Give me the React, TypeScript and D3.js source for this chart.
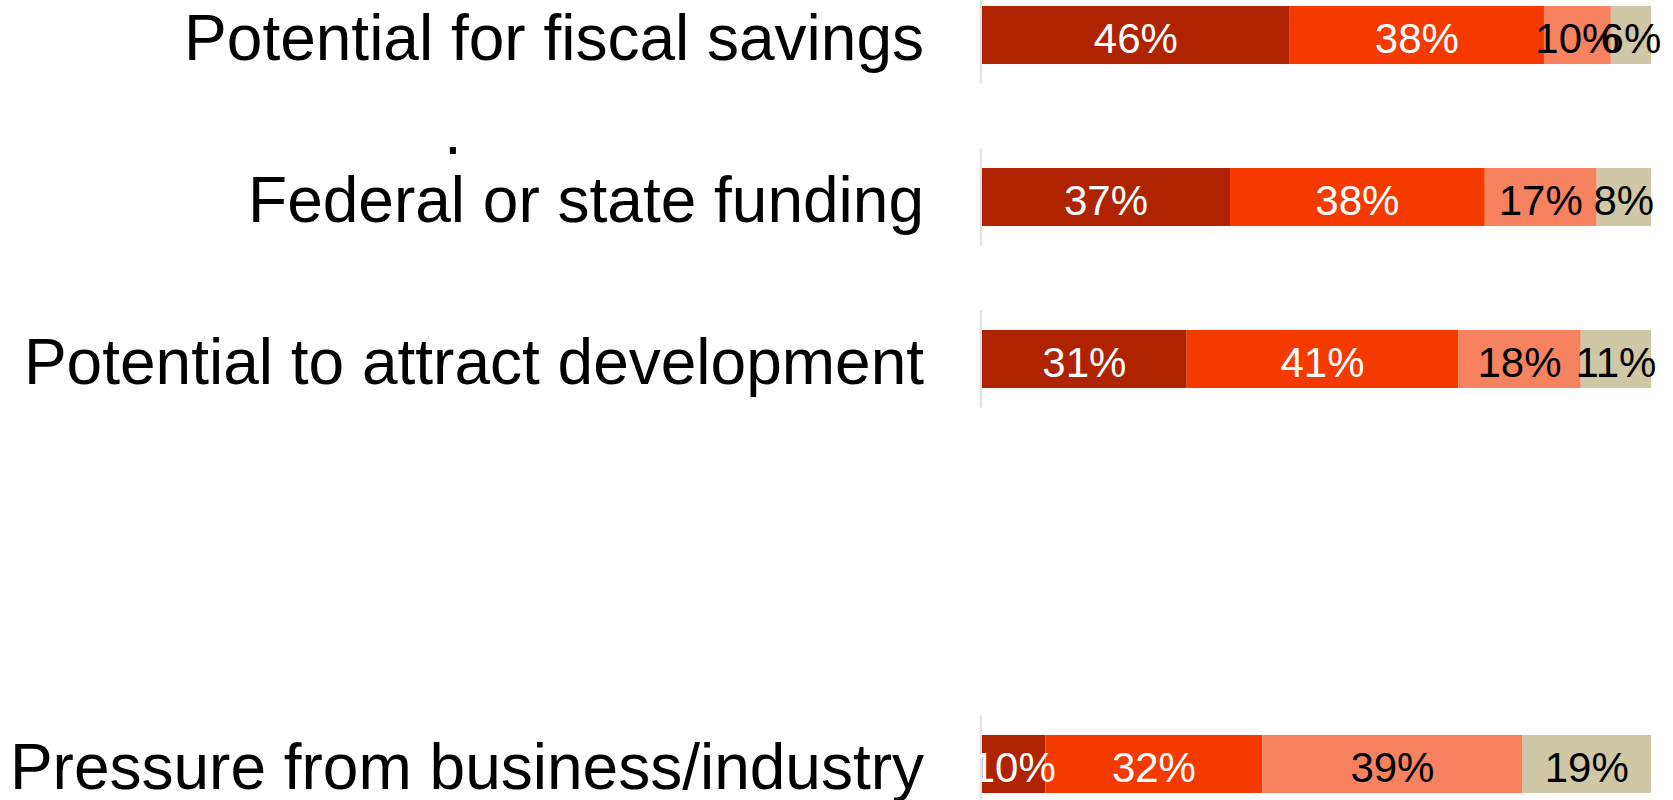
import React from "react";
import * as d3 from "d3";

// ---- data ----
const rowSlots = [
  "Potential for fiscal savings",
  "",
  "Federal or state funding",
  "",
  "Potential to attract development",
  "",
  "",
  "",
  "",
  "Pressure from business/industry",
];
const categories = [
  "Potential for fiscal savings",
  "Federal or state funding",
  "Potential to attract development",
  "Pressure from business/industry",
];
const seriesKeys = ["Very important", "Somewhat important", "Not very important", "Not at all important"];
const veryImportant = [46, 37, 30.6, 9.5];
const somewhatImportant = [38, 38, 40.6, 32.4];
const notVeryImportant = [10, 16.7, 18.3, 38.9];
const notAtAllImportant = [6, 8.1, 10.5, 19.2];
const seriesColors = ["#B02300", "#F53A00", "#F7825F", "#CFC8A6"];
const labelColors = ["#ffffff", "#ffffff", "#000000", "#000000"];
const strayNote = ".";

const W = 1673;
const H = 800;
const FONT = "'Liberation Sans', Arial, Helvetica, sans-serif";

export default function App() {
  const seriesValues = [veryImportant, somewhatImportant, notVeryImportant, notAtAllImportant];
  const table = categories.map((c, i) => {
    const row: any = { category: c };
    seriesKeys.forEach((k, j) => (row[k] = seriesValues[j][i]));
    return row;
  });
  const stacked = d3.stack<any>().keys(seriesKeys).offset(d3.stackOffsetExpand)(table);

  const x = d3.scaleLinear().domain([0, 1]).range([982, 1651]);
  const y = d3
    .scaleBand<string>()
    .domain(rowSlots.map((_, i) => String(i)))
    .range([6, 793])
    .paddingInner(0.2835)
    .paddingOuter(0);
  const slotOf = (c: string) => String(rowSlots.indexOf(c));
  const bw = y.bandwidth();
  const step = y.step();
  const axisX = x(0) - 1;

  const fedY = (y(slotOf("Federal or state funding")) as number) + bw / 2;

  return (
    <svg
      width={W}
      height={H}
      style={{ position: "absolute", left: 0, top: 0, background: "#fff" }}
      fontFamily={FONT}
    >
      {/* axis line segments */}
      {categories.map((c) => {
        const cy = (y(slotOf(c)) as number) + bw / 2;
        return (
          <line
            key={"ax" + c}
            x1={axisX}
            x2={axisX}
            y1={cy - step * 0.6}
            y2={cy + step * 0.6}
            stroke="#e2e2e2"
            strokeWidth={2.5}
          />
        );
      })}
      {/* bars */}
      {stacked.map((s, j) => (
        <g key={s.key}>
          {s.map((d, i) => {
            const c = categories[i];
            const y0 = y(slotOf(c)) as number;
            return (
              <rect
                key={c}
                x={x(d[0])}
                y={y0}
                width={x(d[1]) - x(d[0])}
                height={bw}
                fill={seriesColors[j]}
              />
            );
          })}
        </g>
      ))}
      {/* value labels */}
      {stacked.map((s, j) => (
        <g key={"l" + s.key}>
          {s.map((d, i) => {
            const c = categories[i];
            const cy = (y(slotOf(c)) as number) + bw / 2;
            return (
              <text
                key={c}
                x={(x(d[0]) + x(d[1])) / 2}
                y={cy}
                dy="0.44em"
                textAnchor="middle"
                fontSize={42}
                fill={labelColors[j]}
              >
                {Math.round(seriesValues[j][i])}%
              </text>
            );
          })}
        </g>
      ))}
      {/* category labels */}
      {categories.map((c) => {
        const cy = (y(slotOf(c)) as number) + bw / 2;
        return (
          <text key={"c" + c} x={924} y={cy} dy="0.39em" textAnchor="end" fontSize={64} fill="#000">
            {c}
          </text>
        );
      })}
      <text x={453} y={fedY - 43} textAnchor="middle" fontSize={64} fill="#000">
        {strayNote}
      </text>
    </svg>
  );
}
